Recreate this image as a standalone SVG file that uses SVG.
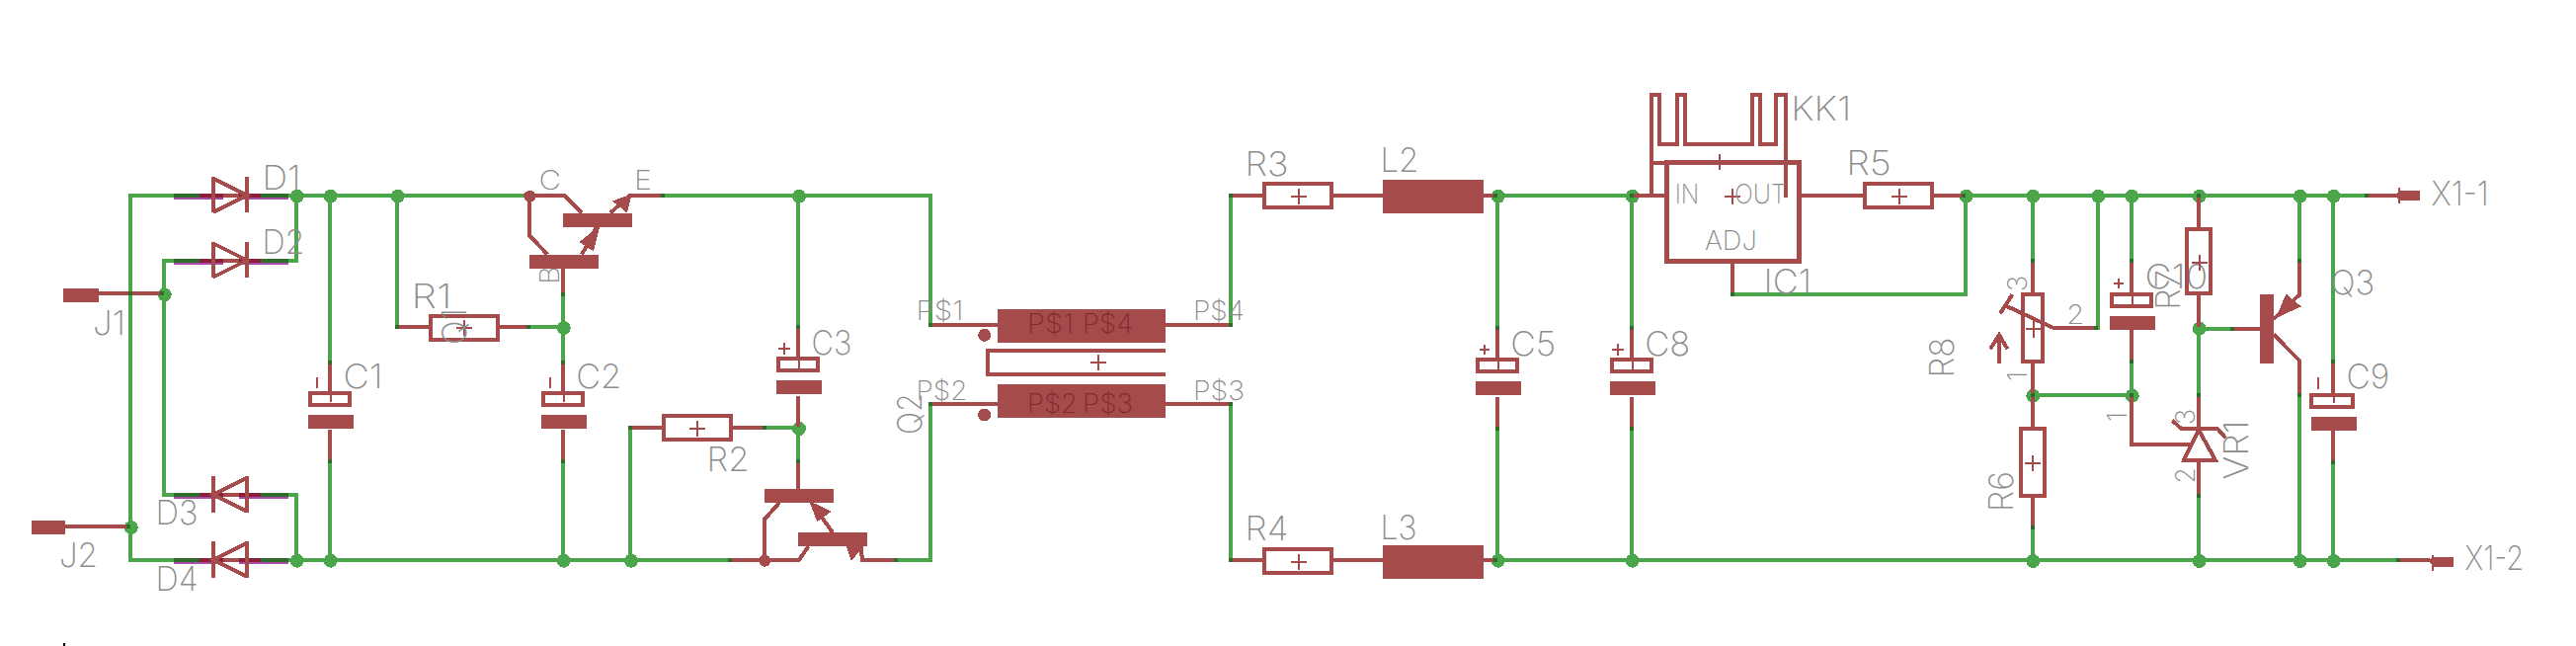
<svg xmlns="http://www.w3.org/2000/svg" width="2608" height="654" viewBox="0 0 2608 654">
<style>
svg{background:#fff}
path,line,rect,circle,polygon{shape-rendering:crispEdges}
.w{fill:none;stroke:#4ba64b;stroke-width:4}
.b{fill:none;stroke:#a54b4b;stroke-width:4}
.p{fill:none;stroke:#a54b4b;stroke-width:2}
.f{fill:#a54b4b;stroke:none}
.a{fill:#a54b4b;stroke:#a54b4b;stroke-width:3}
.j{fill:#4ba64b}
.k{fill:#2f6b2a}
.u{fill:#a64ba6}
.r{fill:#8a1f3a}
.t{font-family:"Inter","Liberation Sans",sans-serif;font-weight:200;fill:#8c8c8c;font-size:34px}
.s{font-size:27px}
.d{fill:#822a2e}
</style>
<defs>
<rect id="n" class="k" x="-2" y="-2" width="4" height="4"/>
<g id="dr"><rect class="u" x="176" y="2" width="50" height="2"/><rect class="u" x="242" y="2" width="50" height="2"/><rect class="k" x="176" y="-2" width="26" height="4"/><rect class="k" x="264" y="-2" width="28" height="4"/><rect class="r" x="202" y="-2" width="24" height="4"/><rect class="r" x="242" y="-2" width="22" height="4"/><path class="b" d="M226 0H242"/></g>
<g id="c"><rect class="b" x="-20" y="1.7" width="40" height="12"/><rect class="f" x="-22" y="23.7" width="46" height="14"/></g>
</defs>

<g id="connectors">
<path class="w" d="M176 197.7H132V566.7H176M176 263.5H166V500.7H176M292 197.7H300V263.5H292M292 500.7H300V566.7H292M292 197.7H536M402 197.7V331H434M334 197.7V365.3M334 466.7V566.7M292 566.7H739"/>
<path class="w" d="M536 331H570M570 298V365.3M570 466.7V566.7M671 197.7H942V329M808 197.7V331M638 433V566.7M774 433H808M808 433V467M906.5 566.7H942V409.3"/>
<path class="w" d="M1246 197.7V329M1246 409.3V566.7M1516 197.7H1652M1516 197.7V332M1516 433.6V566.7M1652 197.7V332M1652 433.6V566.7M1516 566.7H2426"/>
<path class="w" d="M1754 297.7H1990V197.7M1990 197.7H2396M2058 197.7V264M2124 197.7V331.7H2078M2158 197.7V264M2158 366V400.3H2058M2226 332.5V400.3M2226 501.7V566.7M2226 332.5H2260M2328 197.7V264M2328 400V566.7M2362 197.7V366M2362 467.7V566.7M2058 534V566.7"/>
<g id="junctions">
<circle class="j" cx="300.7" cy="198.7" r="7"/><circle class="j" cx="334.7" cy="198.7" r="7"/><circle class="j" cx="402.7" cy="198.7" r="7"/><circle class="j" cx="166.7" cy="298.3" r="7"/><circle class="j" cx="132.7" cy="534" r="7"/><circle class="j" cx="300.7" cy="567.7" r="7"/><circle class="j" cx="334.7" cy="567.7" r="7"/>
<circle class="j" cx="570.7" cy="332" r="7"/><circle class="j" cx="570.7" cy="567.7" r="7"/><circle class="j" cx="639" cy="567.7" r="7"/><circle class="j" cx="809" cy="198.7" r="7"/><circle class="j" cx="809" cy="434" r="7"/>
<circle class="j" cx="1516.7" cy="198.8" r="7"/><circle class="j" cx="1652.7" cy="198.8" r="7"/><circle class="j" cx="1516.7" cy="567.7" r="7"/><circle class="j" cx="1652.7" cy="567.7" r="7"/>
<circle class="j" cx="1990.7" cy="198.7" r="7"/><circle class="j" cx="2058.3" cy="198.7" r="7"/><circle class="j" cx="2124.3" cy="198.7" r="7"/><circle class="j" cx="2158.3" cy="198.7" r="7"/><circle class="j" cx="2226.7" cy="198.7" r="7"/><circle class="j" cx="2328.7" cy="198.7" r="7"/><circle class="j" cx="2362.7" cy="198.7" r="7"/>
<circle class="j" cx="2058.3" cy="400.7" r="7"/><circle class="j" cx="2158.7" cy="400.7" r="7"/><circle class="j" cx="2226.7" cy="332.7" r="7"/>
<circle class="j" cx="2058.3" cy="568" r="7"/><circle class="j" cx="2226.7" cy="568" r="7"/><circle class="j" cx="2328.7" cy="568" r="7"/><circle class="j" cx="2362.7" cy="568" r="7"/>
</g>
</g>

<g id="J1"><rect class="f" x="64" y="292" width="36" height="14"/><path class="b" d="M100 297.3H164"/><use href="#n" x="132" y="297.3"/><use href="#n" x="164" y="297.3"/><text class="t" x="94" y="339" textLength="33" lengthAdjust="spacingAndGlyphs">J1</text></g>
<g id="J2"><rect class="f" x="32" y="527" width="34" height="14"/><path class="b" d="M66 532.7H130"/><use href="#n" x="130" y="532.7"/><text class="t" x="60" y="574.3" textLength="39" lengthAdjust="spacingAndGlyphs">J2</text></g>

<g id="D1"><use href="#dr" y="197.7"/><path class="b" d="M216 179V215.3M250 179V215.3M216 180.7L250 197.7L216 214.7"/><text class="t" x="265.5" y="192" textLength="39" lengthAdjust="spacingAndGlyphs">D1</text></g>
<g id="D2"><use href="#dr" y="263.5"/><path class="b" d="M216 245V281M250 245V281M216 246.5L250 263.5L216 280.5"/><text class="t" x="265.5" y="257.3" textLength="43" lengthAdjust="spacingAndGlyphs">D2</text></g>
<g id="D3"><use href="#dr" y="500.7"/><path class="b" d="M216 482V518.5M250 482V518.5M250 483.7L216 500.7L250 517.7"/><text class="t" x="157.5" y="530.7" textLength="43" lengthAdjust="spacingAndGlyphs">D3</text></g>
<g id="D4"><use href="#dr" y="566.7"/><path class="b" d="M216 548V584.5M250 548V584.5M250 549.7L216 566.7L250 583.7"/><text class="t" x="157.5" y="598.3" textLength="43" lengthAdjust="spacingAndGlyphs">D4</text></g>

<g id="C1"><path class="b" d="M334 367V398M334 435V465"/><use href="#n" x="334" y="367"/><use href="#n" x="334" y="467"/><use href="#c" x="334" y="396"/><path class="p" d="M334.7 398V407M320.7 381.7V393.3"/><text class="t" x="347.5" y="393.3" textLength="40" lengthAdjust="spacingAndGlyphs">C1</text></g>

<g id="R1"><rect class="b" x="436" y="320" width="68" height="23.5"/><path class="b" d="M402 331H434M506 331H535"/><use href="#n" x="402" y="331"/><use href="#n" x="535" y="331"/><path class="p" d="M462 332H478M470 324V340"/><text class="t" x="416.5" y="311.7" textLength="41" lengthAdjust="spacingAndGlyphs">R1</text></g>

<g id="Q1">
<rect class="f" x="570" y="215.7" width="70" height="14"/><rect class="f" x="536" y="257.7" width="70" height="14"/>
<circle class="f" cx="536.4" cy="198.7" r="6"/><use href="#n" x="532" y="197.7"/>
<path class="b" d="M530 197.7H571.4L589 215.7M618 215.7L637.5 197.7H671M536 198V238.3L554.3 257.7M589 257.7L604 230M570 271.7V297"/>
<use href="#n" x="671" y="197.7"/><use href="#n" x="570" y="297.7"/>
<polygon class="a" points="637.5,198.7 623,204 634,213"/><polygon class="a" points="605,232 589,245 600,252"/>
<text class="t s" x="545.5" y="191.7" textLength="22.5" lengthAdjust="spacingAndGlyphs">C</text><text class="t s" x="642" y="191.7" textLength="18" lengthAdjust="spacingAndGlyphs">E</text>
<text class="t s" transform="translate(566 287.7) rotate(-90)" textLength="18" lengthAdjust="spacingAndGlyphs">B</text>
<text class="t" transform="translate(472 349) rotate(-90)" textLength="37" lengthAdjust="spacingAndGlyphs">Q1</text>
</g>

<g id="C2"><path class="b" d="M570 367V398M570 435V465"/><use href="#n" x="570" y="367"/><use href="#n" x="570" y="467"/><use href="#c" x="570" y="396"/><path class="p" d="M570.7 398V407M557 381.7V393.3"/><text class="t" x="583.2" y="393.3" textLength="46" lengthAdjust="spacingAndGlyphs">C2</text></g>

<g id="C3"><path class="b" d="M808 331V364M808 401V432"/><use href="#n" x="808" y="331"/><use href="#c" x="808" y="361.6"/><path class="p" d="M808.6 364V373M787.6 353.3H799.6M793.6 347.3V359.3"/><text class="t" x="821.5" y="359" textLength="41" lengthAdjust="spacingAndGlyphs">C3</text></g>

<g id="R2"><rect class="b" x="672" y="421.3" width="68" height="23.5"/><path class="b" d="M638 433H670M742 433H774"/><use href="#n" x="638" y="433"/><use href="#n" x="774" y="433"/><path class="p" d="M698.4 434H714.4M706.4 426V442"/><text class="t" x="715.5" y="476.7" textLength="43" lengthAdjust="spacingAndGlyphs">R2</text></g>

<g id="Q2">
<rect class="f" x="774" y="495" width="70" height="14"/><rect class="f" x="808" y="539" width="70" height="14"/>
<circle class="f" cx="774.3" cy="567.7" r="6"/>
<path class="b" d="M808 467V495M739 566.7H809L818.6 553M774 566.7V525.7L789 509M821.4 509L843 539M871.4 553L873 566.7H906"/>
<use href="#n" x="808" y="467"/><use href="#n" x="739" y="566.7"/><use href="#n" x="906.5" y="566.7"/>
<polygon class="a" points="822,510 839,518 828,526"/><polygon class="a" points="862.5,565 858.5,553 872,553"/>
<text class="t" transform="translate(933 440) rotate(-90)" textLength="42" lengthAdjust="spacingAndGlyphs">Q2</text>
</g>

<g id="T1">
<rect class="f" x="1010" y="313.3" width="170" height="34"/><rect class="f" x="1010" y="389.3" width="170" height="34"/>
<path class="b" d="M942 329H1010M1180 329H1246M942 409.3H1010M1180 409.3H1246"/>
<use href="#n" x="942" y="329"/><use href="#n" x="1246" y="329"/><use href="#n" x="942" y="409.3"/><use href="#n" x="1246" y="409.3"/>
<path class="b" d="M1180 355.3H1000V379H1180"/><path class="p" d="M1104 366.7H1120M1112 359V375"/>
<circle class="f" cx="996.7" cy="339.3" r="6.5"/><circle class="f" cx="996.7" cy="420" r="6.5"/>
<text class="t s d" x="1040" y="337.3" textLength="47" lengthAdjust="spacingAndGlyphs">P$1</text><text class="t s d" x="1096" y="337.3" textLength="51" lengthAdjust="spacingAndGlyphs">P$4</text>
<text class="t s d" x="1040" y="418.3" textLength="51" lengthAdjust="spacingAndGlyphs">P$2</text><text class="t s d" x="1096" y="418.3" textLength="51" lengthAdjust="spacingAndGlyphs">P$3</text>
<text class="t s" x="927.5" y="324" textLength="48" lengthAdjust="spacingAndGlyphs">P$1</text><text class="t s" x="1208" y="324" textLength="52" lengthAdjust="spacingAndGlyphs">P$4</text>
<text class="t s" x="927.5" y="405" textLength="52" lengthAdjust="spacingAndGlyphs">P$2</text><text class="t s" x="1208" y="405" textLength="52" lengthAdjust="spacingAndGlyphs">P$3</text>
</g>

<g id="R3"><rect class="b" x="1280" y="186" width="68" height="23.5"/><path class="b" d="M1246 197.7H1278M1350 197.7H1400"/><use href="#n" x="1246" y="197.7"/><path class="p" d="M1307 198.8H1323M1315 191V207"/><text class="t" x="1260.5" y="178" textLength="44" lengthAdjust="spacingAndGlyphs">R3</text></g>
<g id="R4"><rect class="b" x="1280" y="555.8" width="68" height="24"/><path class="b" d="M1246 566.7H1278M1350 566.7H1400"/><use href="#n" x="1246" y="566.7"/><path class="p" d="M1307 568.6H1323M1315 561V577"/><text class="t" x="1260.5" y="547.3" textLength="44" lengthAdjust="spacingAndGlyphs">R4</text></g>
<g id="L2"><rect class="f" x="1400" y="182" width="102" height="34"/><path class="b" d="M1502 197.7H1514"/><use href="#n" x="1514" y="197.7"/><text class="t" x="1397.5" y="174.3" textLength="39" lengthAdjust="spacingAndGlyphs">L2</text></g>
<g id="L3"><rect class="f" x="1400" y="552" width="102" height="34"/><path class="b" d="M1502 566.7H1514"/><use href="#n" x="1514" y="566.7"/><text class="t" x="1397.5" y="545.5" textLength="37" lengthAdjust="spacingAndGlyphs">L3</text></g>

<g id="C5"><path class="b" d="M1516 332V365M1516 402V433"/><use href="#n" x="1516" y="332"/><use href="#n" x="1516" y="433.6"/><use href="#c" x="1516" y="362.8"/><path class="p" d="M1517 365V374M1497.7 353.7H1507.7M1502.7 348.7V358.7"/><text class="t" x="1529.2" y="359.6" textLength="46" lengthAdjust="spacingAndGlyphs">C5</text></g>
<g id="C8"><path class="b" d="M1652 332V365M1652 402V433"/><use href="#n" x="1652" y="332"/><use href="#n" x="1652" y="433.6"/><use href="#c" x="1652" y="362.8"/><path class="p" d="M1653 365V374M1632.3 353.7H1644.3M1638.3 347.7V359.7"/><text class="t" x="1665.2" y="359.6" textLength="46" lengthAdjust="spacingAndGlyphs">C8</text></g>

<g id="KK1"><path class="b" d="M1672 197.7V96H1680V146H1698V96H1706V146H1774V96H1782V146H1798V96H1808V200M1672 164.7H1808"/><path class="p" d="M1741 156V172"/><text class="t" x="1813.2" y="121.7" textLength="61" lengthAdjust="spacingAndGlyphs">KK1</text></g>
<g id="IC1"><rect x="1687.3" y="164.7" width="134.4" height="99.6" fill="none" stroke="#a54b4b" stroke-width="5.5"/><path class="b" d="M1652 197.7H1687M1822 197.7H1886M1754 264V297"/><use href="#n" x="1652" y="197.7"/><use href="#n" x="1754" y="297.7"/><path class="p" d="M1746 199.3H1762M1754 191.3V207.3"/><text class="t s" x="1695.7" y="205.7" textLength="24.6" lengthAdjust="spacingAndGlyphs">IN</text><text class="t s" x="1756" y="205.7" textLength="52.7" lengthAdjust="spacingAndGlyphs">OUT</text><text class="t s" x="1726" y="253.3" textLength="52.7" lengthAdjust="spacingAndGlyphs">ADJ</text><text class="t" x="1785.5" y="297.3" textLength="48.7" lengthAdjust="spacingAndGlyphs">IC1</text></g>
<g id="R5"><rect class="b" x="1888" y="186" width="68" height="23.7"/><path class="b" d="M1958 197.7H1988"/><use href="#n" x="1988" y="197.7"/><path class="p" d="M1914.7 198.7H1930.7M1922.7 191V207"/><text class="t" x="1869.2" y="177.3" textLength="45.6" lengthAdjust="spacingAndGlyphs">R5</text></g>

<g id="R8"><rect class="b" x="2048.3" y="298" width="19.4" height="67.7"/><path class="b" d="M2058 264V296M2058 367.7V400M2078.3 331.7H2122M2078.3 331.7L2031.7 310M2037.3 298.3L2025 317.3M2024 367.7V339M2015 353.3L2024 339L2032.3 353.3"/><use href="#n" x="2058" y="264"/><use href="#n" x="2122" y="331.7"/><path class="p" d="M2051 333.3H2067M2059 325V342"/>
<text class="t s" transform="translate(2051.7 295) rotate(-90)" textLength="16" lengthAdjust="spacingAndGlyphs">3</text><text class="t s" transform="translate(2051.7 386) rotate(-90)" textLength="10" lengthAdjust="spacingAndGlyphs">1</text><text class="t s" x="2092.3" y="327.7" textLength="18" lengthAdjust="spacingAndGlyphs">2</text><text class="t" transform="translate(1978 382.5) rotate(-90)" textLength="41" lengthAdjust="spacingAndGlyphs">R8</text></g>
<g id="R6"><rect class="b" x="2046.3" y="434" width="23.4" height="67.7"/><path class="b" d="M2058 400V432M2058 503.7V533"/><use href="#n" x="2058" y="534"/><use href="#n" x="2058" y="400.3"/><path class="p" d="M2050.3 469.3H2066.3M2058.3 461V477"/><text class="t" transform="translate(2038 518) rotate(-90)" textLength="41" lengthAdjust="spacingAndGlyphs">R6</text></g>
<g id="C10"><path class="b" d="M2158 264V297M2158 334V365M2158 400V450H2216.7"/><use href="#n" x="2158" y="264"/><use href="#n" x="2158" y="366"/><use href="#n" x="2158" y="400.3"/><rect class="b" x="2138" y="298" width="40" height="12"/><rect class="f" x="2136" y="320" width="46" height="14"/><path class="p" d="M2158.7 298V311M2140 287H2150M2145 282V292"/><text class="t" x="2171.5" y="291.7" textLength="63.7" lengthAdjust="spacingAndGlyphs">C10</text><text class="t s" transform="translate(2153.3 427) rotate(-90)" textLength="10" lengthAdjust="spacingAndGlyphs">1</text></g>
<g id="R7"><rect class="b" x="2214.3" y="232" width="23.4" height="65.3"/><path class="b" d="M2226 198V230M2226 299.3V331"/><use href="#n" x="2226" y="198"/><path class="p" d="M2218.7 266H2234.7M2226.7 258V274"/><text class="t" transform="translate(2206.7 314) rotate(-90)" textLength="41" lengthAdjust="spacingAndGlyphs">R7</text></g>
<g id="VR1"><path class="b" d="M2226 400V434M2226 468V500M2226 435L2211 466H2243ZM2199.3 425.7L2208.3 434H2245L2253.3 443.3"/><use href="#n" x="2226" y="400"/><use href="#n" x="2226" y="501.7"/><text class="t s" transform="translate(2221.7 430) rotate(-90)" textLength="16" lengthAdjust="spacingAndGlyphs">3</text><text class="t s" transform="translate(2221.7 489.3) rotate(-90)" textLength="16" lengthAdjust="spacingAndGlyphs">2</text><text class="t" transform="translate(2276 485.5) rotate(-90)" textLength="60" lengthAdjust="spacingAndGlyphs">VR1</text></g>
<g id="Q3"><rect class="f" x="2288" y="298" width="14" height="69.7"/><path class="b" d="M2328 264V298.3L2302 323M2302 338.7L2328 365V400M2260 332.5H2288"/><use href="#n" x="2328" y="264"/><use href="#n" x="2328" y="400"/><use href="#n" x="2260" y="332.5"/><polygon class="a" points="2307,319 2315,300 2327,310"/><text class="t" x="2359.5" y="297.7" textLength="44.7" lengthAdjust="spacingAndGlyphs">Q3</text></g>
<g id="C9"><path class="b" d="M2362 366V399M2362 436V466"/><use href="#n" x="2362" y="366"/><use href="#n" x="2362" y="467.7"/><rect class="b" x="2340" y="400" width="42" height="12"/><rect class="f" x="2340" y="422" width="46" height="14"/><path class="p" d="M2363 400V408M2347 382V394"/><text class="t" x="2375.5" y="393.3" textLength="43.7" lengthAdjust="spacingAndGlyphs">C9</text></g>

<g id="X1-1"><path class="b" d="M2396 197.7H2426"/><use href="#n" x="2396" y="197.7"/><polygon class="f" points="2424,198 2430,193.3 2450,193.3 2450,203 2430,203"/><path class="p" d="M2429 190V206"/><text class="t" x="2461.5" y="207.7" textLength="58.3" lengthAdjust="spacingAndGlyphs">X1-1</text></g>
<g id="X1-2"><path class="b" d="M2428 566.7H2460"/><use href="#n" x="2428" y="566.7"/><polygon class="f" points="2458,568 2464,563.5 2484,563.5 2484,573.5 2464,573.5"/><path class="p" d="M2462.7 561.7V578"/><text class="t" x="2495.5" y="577.3" textLength="59.7" lengthAdjust="spacingAndGlyphs">X1-2</text></g>
<rect x="64" y="651" width="2" height="3" fill="#000"/>
</svg>
